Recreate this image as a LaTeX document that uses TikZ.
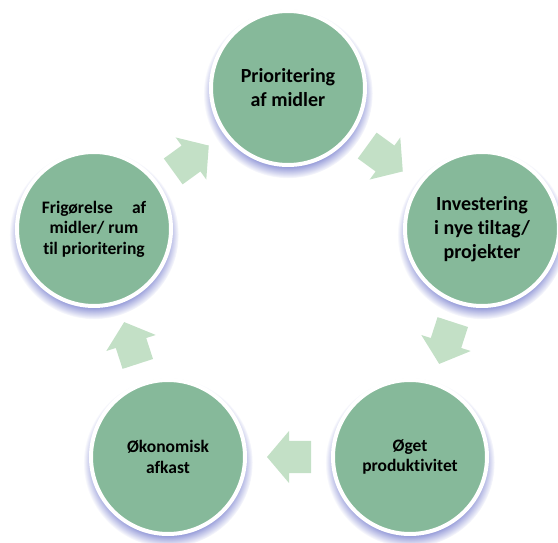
\documentclass[tikz,border=0pt]{standalone}
\usepackage{fontspec}
\setmainfont{Carlito}[Ligatures={NoCommon}]
\usetikzlibrary{shadows,calc}
\definecolor{circgreen}{RGB}{134,185,154}
\definecolor{arrowgreen}{RGB}{195,224,198}
\definecolor{shadowblue}{RGB}{104,112,200}
\tikzset{
  circ/.style={circle, minimum size=154pt, inner sep=0pt, fill=circgreen, draw=white, line width=4pt,
    circular drop shadow={shadow xshift=0pt, shadow yshift=-5pt, shadow scale=1.1, fill=shadowblue, opacity=0.75},
    align=center, text=black},
  bigtxt/.style={font=\bfseries\fontsize{20}{24}\selectfont},
  smalltxt/.style={font=\bfseries\fontsize{17.5}{20.5}\selectfont},
  blockarrow/.pic={\fill[arrowgreen] (-22,-16) -- (0,-16) -- (0,-26) -- (22,0) -- (0,26) -- (0,16) -- (-22,16) -- cycle;}
}
\begin{document}
\begin{tikzpicture}[x=1pt,y=1pt]
\useasboundingbox (0,0) rectangle (558,542);
\node[circ, bigtxt] (top) at (288,454) {Prioritering\\af midler};
\node[circ, bigtxt] (right) at (482,313) {Investering\\i nye tiltag/\\projekter};
\node[circ, smalltxt] (br) at (410,85) {Øget\\produktivitet};
\node[circ, smalltxt] (bl) at (168,85) {Økonomisk\\afkast};
\node[circ, smalltxt] (left) at (94,313) {Frigørelse\hspace{1.1em}af\\midler/ rum\\til prioritering};
\coordinate (m1) at ($(top)!0.5!(right)$);
\coordinate (m2) at ($(right)!0.5!(br)$);
\coordinate (m3) at ($(br)!0.5!(bl)$);
\coordinate (m4) at ($(bl)!0.5!(left)$);
\coordinate (m5) at ($(left)!0.5!(top)$);
\pic[rotate=-36] at (m1) {blockarrow};
\pic[rotate=-108] at (m2) {blockarrow};
\pic[rotate=180] at (m3) {blockarrow};
\pic[rotate=108] at (m4) {blockarrow};
\pic[rotate=36] at (m5) {blockarrow};
\end{tikzpicture}
\end{document}
